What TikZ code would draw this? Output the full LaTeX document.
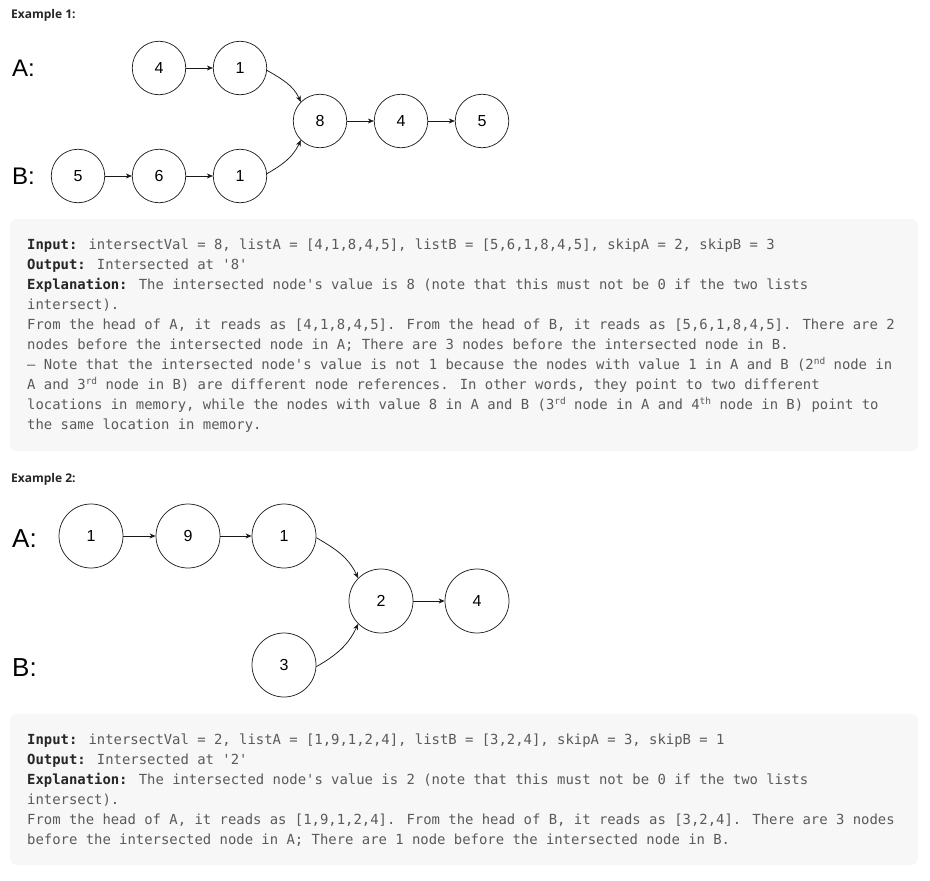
\documentclass[tikz,border=0pt]{standalone}
\usepackage{fontspec}
\setmainfont{Liberation Sans}
\newfontfamily\codefont{DejaVu Sans Mono}
\newfontfamily\headfont{Open Sans}
\usetikzlibrary{arrows.meta}
\definecolor{boxbg}{HTML}{F7F7F7}
\definecolor{codegray}{HTML}{5A5A5A}
\definecolor{labeldark}{HTML}{262626}
\newcommand\supx[1]{\raisebox{0.6ex}{\fontsize{9.5pt}{9.5pt}\selectfont #1}}
\newcommand\lbl[1]{{\bfseries\color{labeldark}#1}}
\tikzset{
  listnode/.style={circle, draw=black!85, line width=0.75pt, inner sep=0pt,
    minimum size=#1, font=\fontsize{16pt}{16pt}\selectfont},
  link/.style={-{Stealth[length=6pt,width=5pt,inset=1.8pt]}, line width=0.75pt, draw=black!90},
  listlabel/.style={anchor=base west, inner sep=0pt, font=\fontsize{#1}{#1}\selectfont},
  heading/.style={anchor=base west, inner sep=0pt, text=labeldark,
    font=\headfont\bfseries\fontsize{12pt}{12pt}\selectfont},
  codeline/.style={anchor=base west, inner sep=0pt, text=codegray,
    font=\codefont\fontsize{13.9pt}{13.9pt}\selectfont},
  panel/.style={fill=boxbg, draw=none, rounded corners=7pt}
}
\begin{document}
\begin{tikzpicture}[x=1pt, y=-1pt]
\useasboundingbox (0,0) rectangle (930,881);
\fill[white] (0,0) rectangle (930,881);

% ---------- Example 1 ----------
\node[heading] (h1) at (11,18.3) {Example 1:};
\node[listlabel=24pt] (la1) at (12,76) {A:};
\node[listlabel=24pt] (lb1) at (12,184) {B:};

\node[listnode=53.5pt] (a1) at (159,68) {4};
\node[listnode=53.5pt] (a2) at (240,68) {1};
\node[listnode=53.5pt] (c1) at (320,121) {8};
\node[listnode=53.5pt] (c2) at (401,121) {4};
\node[listnode=53.5pt] (c3) at (482,121) {5};
\node[listnode=53.5pt] (b1) at (78,176) {5};
\node[listnode=53.5pt] (b2) at (159,176) {6};
\node[listnode=53.5pt] (b3) at (240,176) {1};

\draw[link] (a1) -- (a2);
\draw[link] (a2.-5) to[out=-30,in=115] (c1.135);
\draw[link] (c1) -- (c2);
\draw[link] (c2) -- (c3);
\draw[link] (b1) -- (b2);
\draw[link] (b2) -- (b3);
\draw[link] (b3.5) to[out=30,in=-115] (c1.225);

\fill[panel] (10,219) rectangle (918,451);
\node[codeline] (t1) at (27,249.5) {\lbl{Input:} intersectVal = 8, listA = [4,1,8,4,5], listB = [5,6,1,8,4,5], skipA = 2, skipB = 3};
\node[codeline] (t2) at (27,269.5) {\lbl{Output:} Intersected at '8'};
\node[codeline] (t3) at (27,289.5) {\lbl{Explanation:} The intersected node's value is 8 (note that this must not be 0 if the two lists};
\node[codeline] (t4) at (27,309.5) {intersect).};
\node[codeline] (t5) at (27,329.5) {From the head of A, it reads as [4,1,8,4,5]. From the head of B, it reads as [5,6,1,8,4,5]. There are 2};
\node[codeline] (t6) at (27,349.5) {nodes before the intersected node in A; There are 3 nodes before the intersected node in B.};
\node[codeline] (t7) at (27,369.5) {– Note that the intersected node's value is not 1 because the nodes with value 1 in A and B (2\supx{nd} node in};
\node[codeline] (t8) at (27,389.5) {A and 3\supx{rd} node in B) are different node references. In other words, they point to two different};
\node[codeline] (t9) at (27,409.5) {locations in memory, while the nodes with value 8 in A and B (3\supx{rd} node in A and 4\supx{th} node in B) point to};
\node[codeline] (t10) at (27,429.5) {the same location in memory.};

% ---------- Example 2 ----------
\node[heading] (h2) at (11,482.7) {Example 2:};
\node[listlabel=26pt] (la2) at (12,547) {A:};
\node[listlabel=26pt] (lb2) at (12,676) {B:};

\node[listnode=64pt] (p1) at (91,536) {1};
\node[listnode=64pt] (p2) at (188,536) {9};
\node[listnode=64pt] (p3) at (284,536) {1};
\node[listnode=64pt] (q1) at (381,601) {2};
\node[listnode=64pt] (q2) at (477,601) {4};
\node[listnode=64pt] (r1) at (284,665) {3};

\draw[link] (p1) -- (p2);
\draw[link] (p2) -- (p3);
\draw[link] (p3.-3) to[out=-30,in=115] (q1.135);
\draw[link] (q1) -- (q2);
\draw[link] (r1.-3) to[out=30,in=-115] (q1.225);

\fill[panel] (10,714) rectangle (918,865);
\node[codeline] (s1) at (27,744.5) {\lbl{Input:} intersectVal = 2, listA = [1,9,1,2,4], listB = [3,2,4], skipA = 3, skipB = 1};
\node[codeline] (s2) at (27,764.5) {\lbl{Output:} Intersected at '2'};
\node[codeline] (s3) at (27,784.5) {\lbl{Explanation:} The intersected node's value is 2 (note that this must not be 0 if the two lists};
\node[codeline] (s4) at (27,804.5) {intersect).};
\node[codeline] (s5) at (27,824.5) {From the head of A, it reads as [1,9,1,2,4]. From the head of B, it reads as [3,2,4]. There are 3 nodes};
\node[codeline] (s6) at (27,844.5) {before the intersected node in A; There are 1 node before the intersected node in B.};
\end{tikzpicture}
\end{document}
